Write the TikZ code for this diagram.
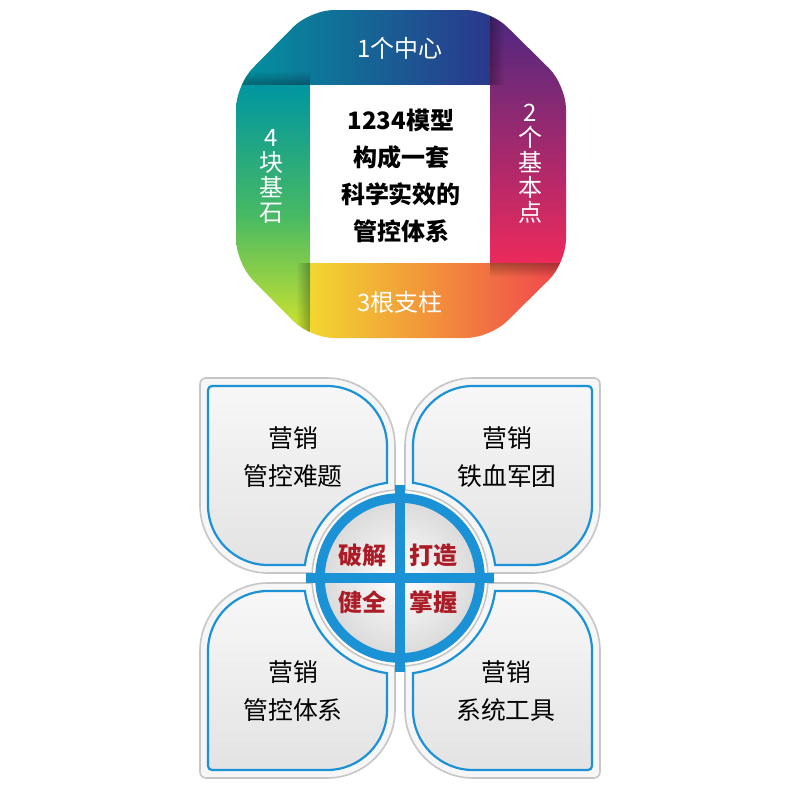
\documentclass[tikz,border=0pt]{standalone}
\usepackage{fontspec}
\setmainfont{Noto Sans CJK SC}
\usetikzlibrary{positioning, fadings}
\definecolor{bandTeal}{RGB}{0,150,160}
\definecolor{bandNavy}{RGB}{42,56,140}
\definecolor{bandPurple}{RGB}{70,40,130}
\definecolor{bandPink}{RGB}{236,42,92}
\definecolor{bandYellow}{RGB}{242,214,48}
\definecolor{bandOrange}{RGB}{242,140,60}
\definecolor{bandRed}{RGB}{240,62,80}
\definecolor{bandGreen}{RGB}{70,185,100}
\definecolor{bandLime}{RGB}{222,232,40}
\definecolor{leafBlue}{RGB}{28,146,214}
\definecolor{keyRed}{RGB}{172,28,38}
\tikzset{
  leaf/.pic={
    % outer rim
    \draw[gray!45, fill=gray!7, line width=0.8pt]
      (-200,-194) arc(180:270:6) -- (-73,-200) arc(270:360:68)
      -- (-5,-87.86) arc(266.74:183.26:88) -- (-132,-5) arc(90:180:68) -- cycle;
    % blue inner line
    \shade[top color=gray!6, bottom color=gray!22]
      (-192,-188) arc(180:270:4) -- (-73,-192) arc(270:360:60)
      -- (-13,-95.12) arc(262.22:187.78:96) -- (-132,-13) arc(90:180:60) -- cycle;
    \draw[leafBlue, line width=1.1pt]
      (-192,-188) arc(180:270:4) -- (-73,-192) arc(270:360:60)
      -- (-13,-95.12) arc(262.22:187.78:96) -- (-132,-13) arc(90:180:60) -- cycle;
  }
}
\begin{document}
\begin{tikzpicture}[x=0.5pt, y=-0.5pt,
    bandlabel/.style={text=white, inner sep=0pt, align=center, font=\fontsize{12}{12.5}\selectfont},
    corelabel/.style={inner sep=0pt, align=center, font=\bfseries\fontsize{12}{18.4}\selectfont},
    leaflabel/.style={inner sep=0pt, align=center, font=\fontsize{12.4}{19}\selectfont},
    keylabel/.style={text=keyRed, inner sep=0pt, font=\bfseries\fontsize{12}{13}\selectfont},
    fold/.style={black, opacity=0.3}
  ]
  \useasboundingbox (0,0) rectangle (800,800);
  \fill[white] (0,0) rectangle (800,800);

  % ribbon
  \begin{scope}
    \clip[rounded corners=12pt] (310,10) -- (490,10) -- (566,85) -- (566,263)
      -- (490,338) -- (310,338) -- (236,263) -- (236,85) -- cycle;
    \shade[left color=bandTeal, right color=bandNavy] (230,85) -- (310,4) -- (490,4) -- (490,85) -- cycle;
    \shade[top color=bandPurple, bottom color=bandPink, middle color=bandPurple!50!bandPink] (490,4) -- (572,85) -- (572,263) -- (490,263) -- cycle;
    \shade[left color=bandYellow, right color=bandRed, middle color=bandOrange] (310,263) -- (572,263) -- (490,344) -- (310,344) -- cycle;
    \shade[top color=bandTeal, bottom color=bandLime, middle color=bandGreen] (230,85) -- (310,85) -- (310,344) -- (230,263) -- cycle;
    % folds
    \fill[fold, path fading=east] (490,4) rectangle (504,85);
    \fill[fold, path fading=south] (490,263) rectangle (572,277);
    \fill[fold, path fading=west] (296,263) rectangle (310,344);
    \fill[fold, path fading=north] (230,71) rectangle (310,85);
  \end{scope}
  \fill[white] (310,85) rectangle (490,263);

  \node[bandlabel] (center) at (400,48) {1个中心};
  \node[bandlabel] (points) at (530,164) {2\\个\\基\\本\\点};
  \node[bandlabel] (pillars) at (400,302) {3根支柱};
  \node[bandlabel] (stones) at (271,176) {4\\块\\基\\石};
  \node[corelabel] (model) at (401,176) {1234模型\\构成一套\\科学实效的\\管控体系};

  % four leaves round the cross
  \pic at (400,578) {leaf};
  \pic[xscale=-1] at (400,578) {leaf};
  \pic[yscale=-1] at (400,578) {leaf};
  \pic[scale=-1] at (400,578) {leaf};

  % hub
  \shade[inner color=white, outer color=gray!30] (400,578) circle (80);
  \draw[leafBlue, line width=4.8pt] (400,578) circle (80);
  \fill[leafBlue] (306,573) rectangle (494,583);
  \fill[leafBlue] (395,485) rectangle (405,672);

  \node[leaflabel] (problems) at (293,457) {营销\\管控难题};
  \node[leaflabel] (legion) at (507,457) {营销\\铁血军团};
  \node[leaflabel] (system) at (293,691) {营销\\管控体系};
  \node[leaflabel] (tools) at (506,691) {营销\\系统工具};

  \node[keylabel] (crack) at (362,555) {破解};
  \node[keylabel] (forge) at (433,555) {打造};
  \node[keylabel] (perfect) at (362,602) {健全};
  \node[keylabel] (master) at (433,602) {掌握};
\end{tikzpicture}
\end{document}
